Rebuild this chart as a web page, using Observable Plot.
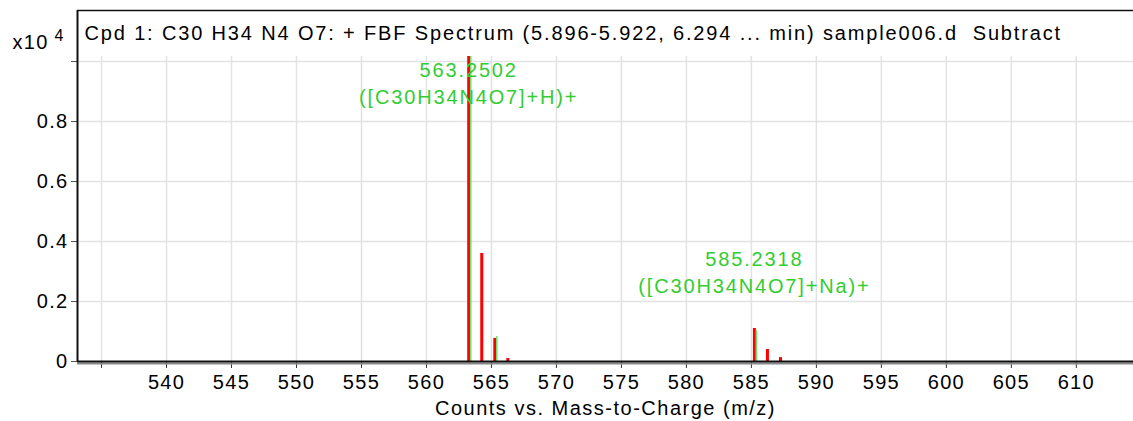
<!DOCTYPE html>
<html><head><meta charset="utf-8">
<script src="https://cdn.jsdelivr.net/npm/d3@7"></script>
<script src="https://cdn.jsdelivr.net/npm/@observablehq/plot@0.6"></script>
<style>html,body{margin:0;padding:0;background:#fff;}</style>
</head><body><div id="chart"></div>
<script>
// ---- data (counts in units of x10^4) ----
const measuredMz = [563.2502, 564.2535, 565.2565, 566.2595, 585.2318, 586.2350, 587.2380];
const measuredCounts = [1.017, 0.36, 0.077, 0.010, 0.110, 0.040, 0.013];
const predictedMz = [563.2502, 565.2565, 585.2318];
const predictedCounts = [1.017, 0.083, 0.103];
const labelMz = [563.2502, 585.2318];
const labelPeak = [1.017, 0.110];
const labelMass = ["563.2502", "585.2318"];
const labelIon = ["([C30H34N4O7]+H)+", "([C30H34N4O7]+Na)+"];
const xTicks = [535, 540, 545, 550, 555, 560, 565, 570, 575, 580, 585, 590, 595, 600, 605, 610];
const xTickLabels = ["", "540", "545", "550", "555", "560", "565", "570", "575", "580", "585", "590", "595", "600", "605", "610"];
const yTicks = [0, 0.2, 0.4, 0.6, 0.8, 1.0];
const yTickLabels = ["0", "0.2", "0.4", "0.6", "0.8", ""];
const title = "Cpd 1: C30 H34 N4 O7: + FBF Spectrum (5.896-5.922, 6.294 ... min) sample006.d  Subtract";
const xLabel = "Counts vs. Mass-to-Charge (m/z)";
const xDomain = [533.15, 614.4];
const yDomain = [0, 1.17];
const gridTop = 1.017;

const measured = measuredMz.map((mz, i) => ({mz, counts: measuredCounts[i]}));
const predicted = predictedMz.map((mz, i) => ({mz, counts: predictedCounts[i]}));
const labels = labelMz.map((mz, i) => ({mz, peak: labelPeak[i], mass: labelMass[i], ion: labelIon[i]}));

const green = "#33cc33";
const font = "'Liberation Sans', Arial, sans-serif";
const fs = 20;

const chart = Plot.plot({
  width: 1133,
  height: 421,
  marginLeft: 77,
  marginRight: 0,
  marginTop: 10,
  marginBottom: 60,
  style: {fontFamily: font, fontSize: fs + "px", color: "#000", background: "#fff", overflow: "visible", letterSpacing: "1.3px"},
  x: {domain: xDomain},
  y: {domain: yDomain},
  marks: [
    Plot.gridX(xTicks, {stroke: "#e2e2e2", strokeOpacity: 1, strokeWidth: 1.5, y1: 0, y2: gridTop}),
    Plot.gridY(yTicks.filter(d => d > 0), {stroke: "#e2e2e2", strokeOpacity: 1, strokeWidth: 1.5}),
    Plot.axisX({ticks: xTicks, tickFormat: (d, i) => xTickLabels[i], tickSize: 7, tickPadding: 6, label: null, stroke: "#333", fontSize: fs}),
    Plot.axisY({ticks: yTicks, tickFormat: (d, i) => yTickLabels[i], tickSize: 6, tickPadding: 3, label: null, stroke: "#555", fontSize: fs}),
    Plot.ruleX(measured, {x: "mz", y1: 0, y2: "counts", stroke: "#ff0000", strokeWidth: 3}),
    Plot.ruleX(predicted, {x: "mz", y1: 0, y2: "counts", stroke: "#70dd70", strokeWidth: 1.6, dx: 2}),
    Plot.ruleY([0], {stroke: "#888", strokeWidth: 2, dy: 2}),
    Plot.ruleY([0], {stroke: "#111", strokeWidth: 2}),
    Plot.ruleX([xDomain[0]], {stroke: "#111", strokeWidth: 2}),
    Plot.ruleY([yDomain[1]], {stroke: "#111", strokeWidth: 1.5}),
    Plot.text(labels, {x: "mz", y: d => Math.min(d.peak + 0.23, 0.97), text: "mass", fill: green, fontSize: fs, textAnchor: "middle", lineAnchor: "middle", className: "wide"}),
    Plot.text(labels, {x: "mz", y: d => Math.min(d.peak + 0.14, 0.88), text: "ion", fill: green, fontSize: fs, textAnchor: "middle", lineAnchor: "middle", className: "wide"}),
    Plot.text([title], {frameAnchor: "top-left", text: d => d, dx: 7, dy: 23, textAnchor: "start", lineAnchor: "middle", fontSize: fs, fill: "#000", className: "wide"}),
    Plot.text(["x10"], {frameAnchor: "top-left", text: d => d, dx: -47, dy: 32, textAnchor: "middle", lineAnchor: "middle", fontSize: fs, fill: "#000"}),
    Plot.text(["4"], {frameAnchor: "top-left", text: d => d, dx: -18, dy: 25, textAnchor: "middle", lineAnchor: "middle", fontSize: 16, fill: "#000"}),
    Plot.text([xLabel], {frameAnchor: "bottom", text: d => d, dy: 47, textAnchor: "middle", lineAnchor: "middle", fontSize: fs, fill: "#000", className: "mid"})
  ]
});
d3.select(chart).selectAll(".wide text, text.wide, .wide").attr("letter-spacing", "1.85px");
d3.select(chart).selectAll(".mid text, .mid").attr("letter-spacing", "1.5px");
document.getElementById("chart").appendChild(chart);
</script>
</body></html>
